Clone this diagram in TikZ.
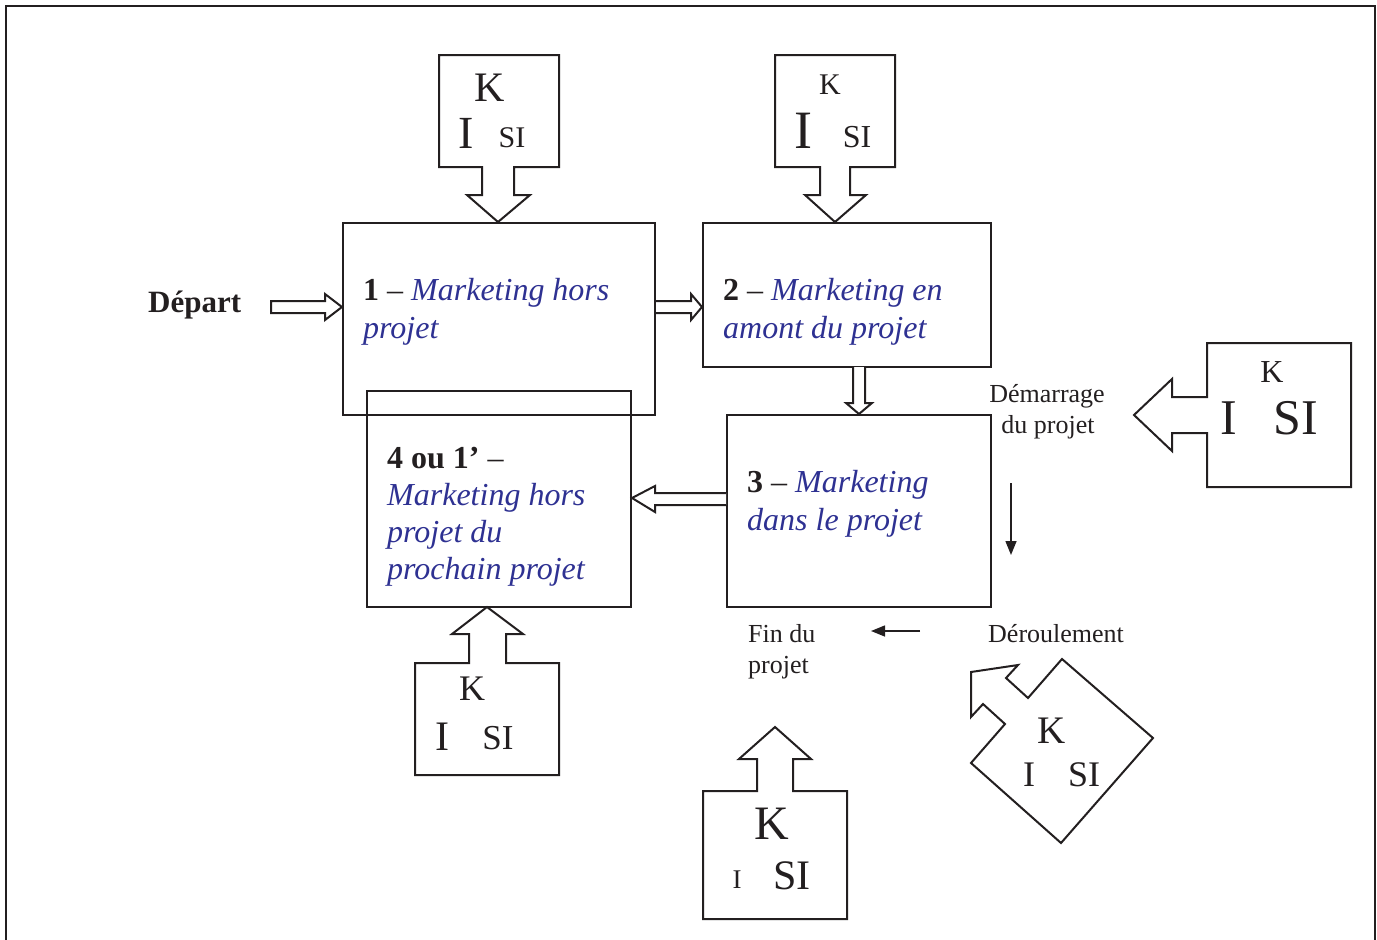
\documentclass[tikz,border=0pt]{standalone}
\usepackage{fontspec}
\setmainfont{Liberation Serif}
\usetikzlibrary{arrows.meta,calc}
\definecolor{ink}{RGB}{35,31,32}
\definecolor{blu}{RGB}{46,49,146}
\newcommand\fs[1]{\fontsize{#1}{#1}\selectfont}
\newcommand\mk[1]{\textcolor{blu}{\itshape #1}}
\begin{document}
\begin{tikzpicture}[x=1pt,y=-1pt, line join=miter,
  box/.style={draw=ink, line width=2pt, inner sep=0pt},
  hol/.style={draw=ink, line width=2pt, fill=white},
  txt/.style={anchor=base west, inner sep=0pt, font=\fs{32}, text=ink},
  lbl/.style={anchor=base west, inner sep=0pt, font=\fs{26}, text=ink},
  kl/.style={inner sep=0pt, text=ink},
  thin/.style={draw=ink, line width=1.5pt, -{Triangle[length=14pt,width=11pt]}}]
\useasboundingbox (0,0) rectangle (1377,940);
% frame
\draw[ink, line width=2.2pt] (6,940) -- (6,6) -- (1375,6) -- (1375,940);

% main boxes
\node[box, minimum width=312, minimum height=192] (b1) at (499,319) {};
\node[box, minimum width=288, minimum height=144] (b2) at (847,295) {};
\node[box, minimum width=264, minimum height=192] (b3) at (859,511) {};
\node[box, minimum width=264, minimum height=216] (b4) at (499,499) {};

% box texts
\node[txt] (t1a) at (363,300) {\textbf{1} – \mk{Marketing hors}};
\node[txt] (t1b) at (363,338) {\mk{projet}};
\node[txt] (t2a) at (723,300) {\textbf{2} – \mk{Marketing en}};
\node[txt] (t2b) at (723,338) {\mk{amont du projet}};
\node[txt] (t3a) at (747,492) {\textbf{3} – \mk{Marketing}};
\node[txt] (t3b) at (747,530) {\mk{dans le projet}};
\node[txt] (t4a) at (387,468) {\textbf{4 ou 1’} –};
\node[txt] (t4b) at (387,505) {\mk{Marketing hors}};
\node[txt] (t4c) at (387,542) {\mk{projet du}};
\node[txt] (t4d) at (387,579) {\mk{prochain projet}};

% Depart
\node[txt, font=\fs{31}\bfseries] (dep) at (148,312) {Départ};
\coordinate (depT) at (271,307);
\draw[hol] (depT) ++(0,-6) -- (325,301) -- (325,294) -- (b1.west |- depT) -- (325,320) -- (325,313) -- (271,313) -- cycle;

% hollow connectors between boxes
\draw[hol] (b1.east |- 0,301) -- (691,301) -- (691,294) -- (b2.west |- 0,307) -- (691,320) -- (691,313) -- (b1.east |- 0,313);
\draw[hol] (853,367) -- (853,403) -- (846,403) -- (b3.north) -- (872,403) -- (865,403) -- (865,367);
\draw[hol] (b3.west |- 0,493) -- (655,493) -- (655,486) -- (b4.east |- 0,498) -- (655,512) -- (655,505) -- (b3.west |- 0,505);

% KISI top 1
\draw[hol] (439,55) -- (559,55) -- (559,167) -- (514,167) -- (514,195) -- (530,195) -- (498,222) -- (467,195) -- (482,195) -- (482,167) -- (439,167) -- cycle;
\node[kl, font=\fs{42}] (k1K) at (490,88) {K};
\node[kl, font=\fs{46}] (k1I) at (466,133) {I};
\node[kl, font=\fs{30}] (k1S) at (512,138) {SI};

% KISI top 2
\draw[hol] (775,55) -- (895,55) -- (895,167) -- (850,167) -- (850,195) -- (866,195) -- (835,222) -- (805,195) -- (820,195) -- (820,167) -- (775,167) -- cycle;
\node[kl, font=\fs{30}] (k2K) at (830,85) {K};
\node[kl, font=\fs{54}] (k2I) at (803,131) {I};
\node[kl, font=\fs{32}] (k2S) at (857,137) {SI};

% KISI right
\draw[hol] (1207,343) -- (1351,343) -- (1351,487) -- (1207,487) -- (1207,433) -- (1172,433) -- (1172,451) -- (1134,415) -- (1172,379) -- (1172,397) -- (1207,397) -- cycle;
\node[kl, font=\fs{32}] (k3K) at (1272,372) {K};
\node[kl, font=\fs{50}] (k3I) at (1229,418) {I};
\node[kl, font=\fs{50}] (k3S) at (1296,418) {SI};

% KISI bottom-left
\draw[hol] (415,663) -- (469,663) -- (469,634) -- (452,634) -- (487,607) -- (523,634) -- (506,634) -- (506,663) -- (559,663) -- (559,775) -- (415,775) -- cycle;
\node[kl, font=\fs{36}] (k4K) at (472,689) {K};
\node[kl, font=\fs{42}] (k4I) at (442,737) {I};
\node[kl, font=\fs{35}] (k4S) at (498,738) {SI};

% KISI bottom
\draw[hol] (703,791) -- (757,791) -- (757,759) -- (739,759) -- (775,727) -- (811,759) -- (793,759) -- (793,791) -- (847,791) -- (847,919) -- (703,919) -- cycle;
\node[kl, font=\fs{48}] (k5K) at (772,824) {K};
\node[kl, font=\fs{27}] (k5I) at (737,880) {I};
\node[kl, font=\fs{42}] (k5S) at (792,876) {SI};

% KISI rotated
\draw[hol] (1062,659) -- (1153,738) -- (1061,843) -- (971,763) -- (1005,724) -- (983,704) -- (971,717) -- (971,672) -- (1018,665) -- (1006,678) -- (1028,698) -- cycle;
\node[kl, font=\fs{39}] (k6K) at (1052,731) {K};
\node[kl, font=\fs{36}] (k6I) at (1029,775) {I};
\node[kl, font=\fs{36}] (k6S) at (1084,775) {SI};

% side labels
\node[lbl, anchor=base] (dem1) at (1047,402) {Démarrage};
\node[lbl, anchor=base] (dem2) at (1048,433) {du projet};
\node[lbl] (fin1) at (748,642) {Fin du};
\node[lbl] (fin2) at (748,673) {projet};
\node[lbl] (der) at (988,642) {Déroulement};

% thin arrows
\coordinate (dA) at (1011,483);
\coordinate (dB) at (1011,555);
\draw[thin] (dA) -- (dB);
\coordinate (lA) at (920,631);
\coordinate (lB) at (871,631);
\draw[thin] (lA) -- (lB);
\end{tikzpicture}
\end{document}
